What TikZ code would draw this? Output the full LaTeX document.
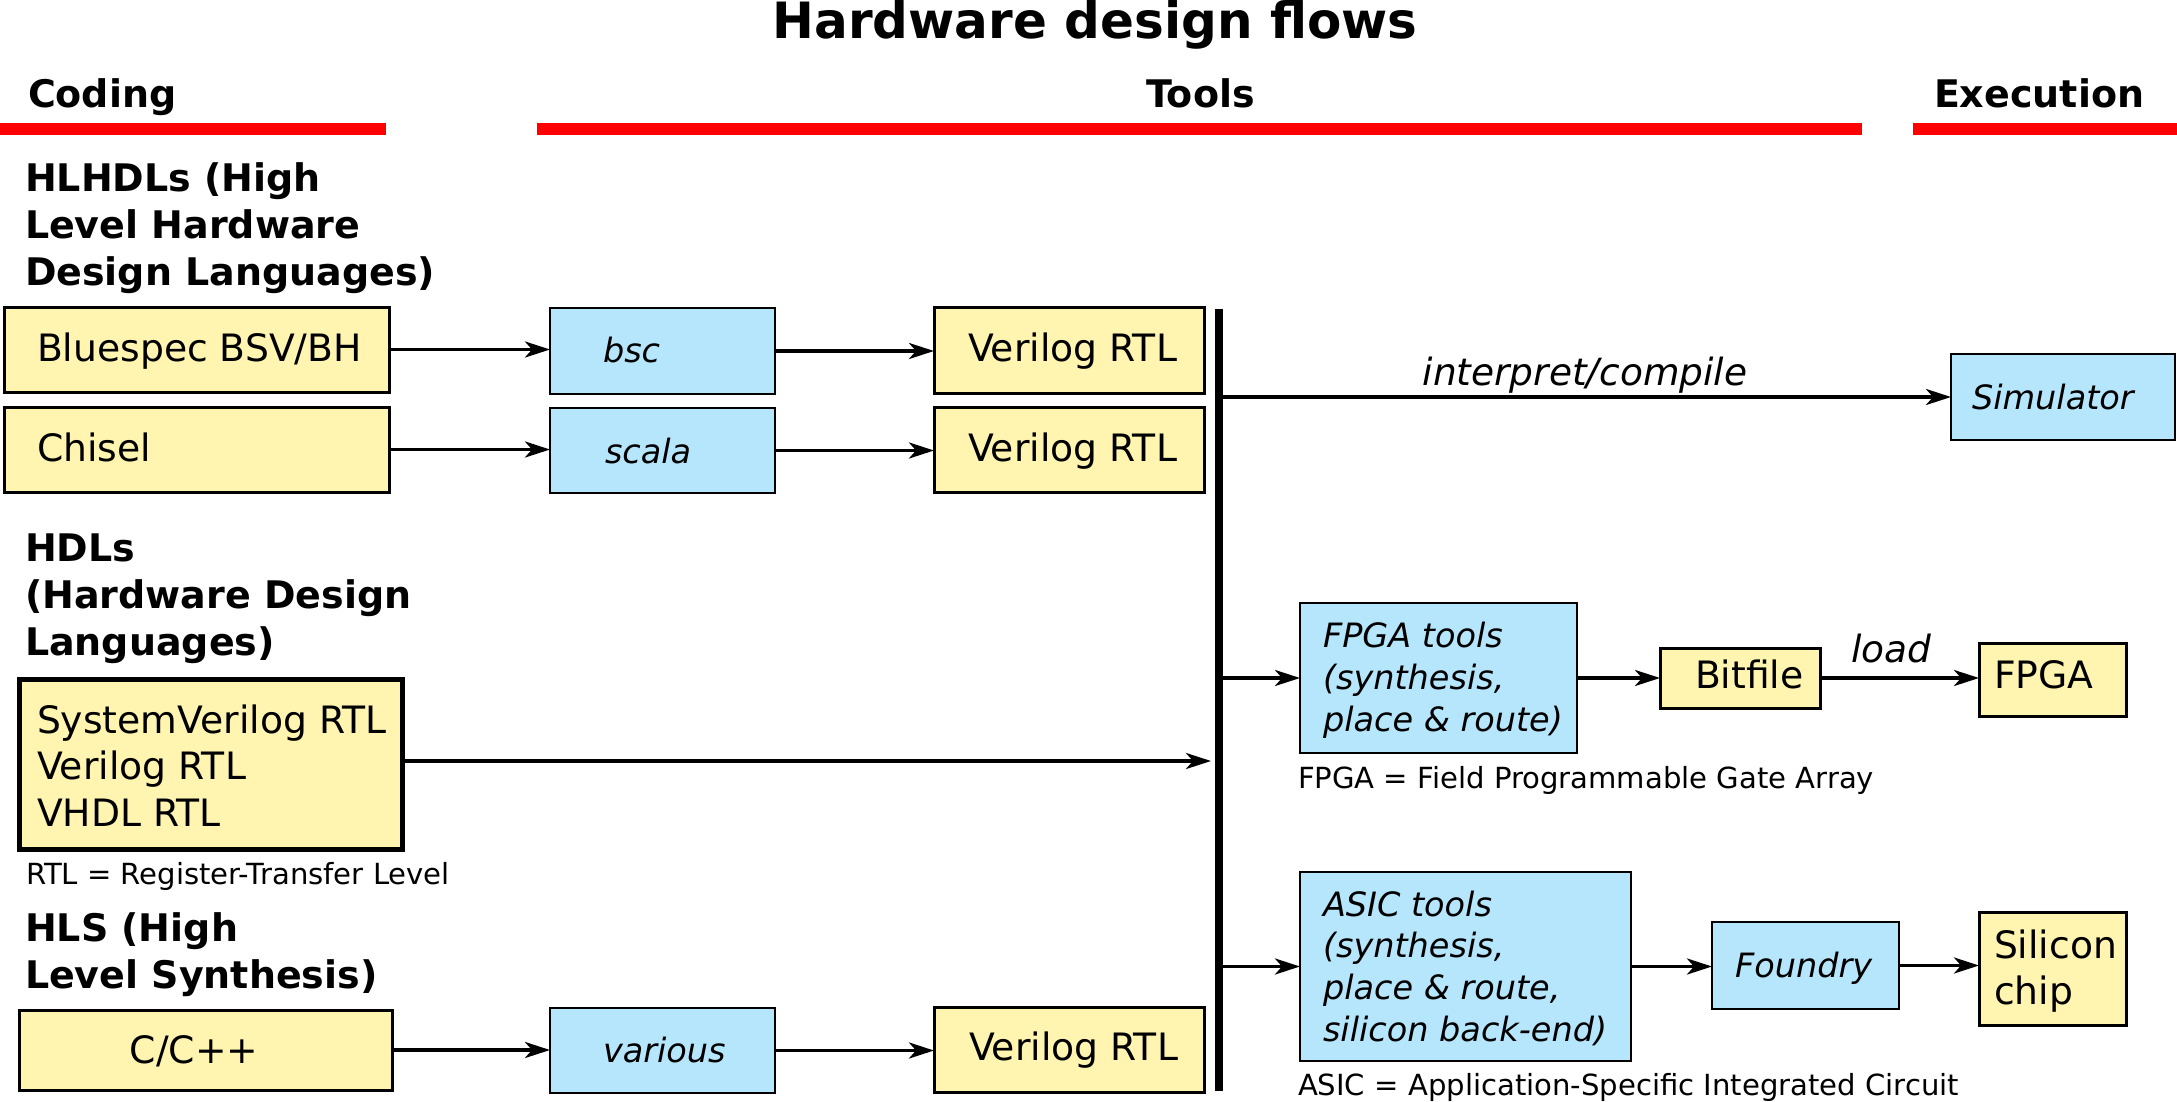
\documentclass[tikz,border=0pt]{standalone}
\usepackage{fontspec}
\setmainfont{DejaVu Sans}
\usetikzlibrary{arrows.meta}
\definecolor{boxyellow}{HTML}{FFF5B0}
\definecolor{boxblue}{HTML}{B5E6FC}
\definecolor{rulered}{HTML}{FF0000}
\begin{document}
\begin{tikzpicture}[x=1pt,y=-1pt,
  ybox/.style={rectangle,draw=black,fill=boxyellow,line width=3pt,inner sep=0pt,outer sep=0pt},
  bbox/.style={rectangle,draw=black,fill=boxblue,line width=2.5pt,inner sep=0pt,outer sep=0pt},
  arr/.style={-{Stealth[length=25pt,width=16pt,inset=7pt]},line width=3.5pt},
  txt/.style={inner sep=0pt,outer sep=0pt,anchor=base west,align=left,font=\fontsize{37.7pt}{46.5pt}\selectfont},
  itxt/.style={inner sep=0pt,outer sep=0pt,anchor=base west,align=left,font=\fontsize{33.5pt}{41.6pt}\selectfont\itshape},
  lbl/.style={inner sep=0pt,font=\fontsize{37.5pt}{42pt}\selectfont\itshape},
  hdr/.style={inner sep=0pt,outer sep=0pt,anchor=base west,align=left,font=\fontsize{38pt}{47pt}\selectfont\bfseries},
  note/.style={inner sep=0pt,outer sep=0pt,anchor=base west,font=\fontsize{29.1pt}{34pt}\selectfont},
  redrule/.style={draw=rulered,line width=12pt},
]
\useasboundingbox (0,0) rectangle (2177,1102);

% title and section headers
\node[inner sep=0pt,anchor=base,font=\fontsize{50pt}{60pt}\selectfont\bfseries] (title) at (1095,39) {Hardware design flows};
\node[hdr] (hcoding) at (28,108) {Coding};
\node[hdr] (htools) at (1146,108) {Tools};
\node[hdr] (hexec) at (1934,108) {Execution};
\draw[redrule] (0,129) -- (386,129);
\draw[redrule] (537,129) -- (1862,129);
\draw[redrule] (1913,129) -- (2177,129);

% left category labels (base = last line)
\node[hdr] (lhl) at (25,285) {HLHDLs (High\\Level Hardware\\Design Languages)};
\node[hdr] (lhdl) at (25,655) {HDLs\\(Hardware Design\\Languages)};
\node[hdr] (lhls) at (25,988) {HLS (High\\Level Synthesis)};
\node[note] (nrtl) at (26,884) {RTL = Register-Transfer Level};

% boxes
\node[ybox,minimum width=385,minimum height=85] (blue) at (196.5,349.5) {};
\node[bbox,minimum width=225,minimum height=86] (bsc) at (662.5,351) {};
\node[ybox,minimum width=270,minimum height=86] (ver1) at (1069,350) {};
\node[ybox,minimum width=385,minimum height=85] (chisel) at (196.5,449.5) {};
\node[bbox,minimum width=225,minimum height=85] (scala) at (662.5,450.5) {};
\node[ybox,minimum width=270,minimum height=85] (ver2) at (1069,449.5) {};
\node[ybox,line width=5pt,minimum width=382.5,minimum height=169.5] (sv) at (210.75,764.25) {};
\node[ybox,minimum width=373,minimum height=80] (cpp) at (205.5,1050) {};
\node[bbox,minimum width=225,minimum height=85] (various) at (662.5,1050.5) {};
\node[ybox,minimum width=270,minimum height=85] (ver3) at (1069,1049.5) {};
\node[bbox,minimum width=224,minimum height=86] (sim) at (2063,397) {};
\node[bbox,minimum width=277,minimum height=150] (fpgat) at (1438.5,678) {};
\node[ybox,minimum width=160,minimum height=60] (bitfile) at (1740,678) {};
\node[ybox,minimum width=147,minimum height=73] (fpga) at (2052.5,679.5) {};
\node[bbox,minimum width=331,minimum height=189] (asict) at (1465.5,966.5) {};
\node[bbox,minimum width=187,minimum height=87] (foundry) at (1805.5,965.5) {};
\node[ybox,minimum width=147,minimum height=113] (silicon) at (2052.5,968.5) {};

% box texts (multi-line: base = last line)
\node[txt] (tblue) at (37,361) {Bluespec BSV/BH};
\node[itxt] (tbsc) at (603,362) {bsc};
\node[txt] (tver1) at (968,361) {Verilog RTL};
\node[txt] (tchisel) at (37,461) {Chisel};
\node[itxt] (tscala) at (605,463) {scala};
\node[txt] (tver2) at (968,461) {Verilog RTL};
\node[txt] (tsv) at (37,826) {SystemVerilog RTL\\Verilog RTL\\VHDL RTL};
\node[txt,anchor=base] (tcpp) at (194,1063) {C/C++};
\node[itxt] (tvarious) at (603,1062) {various};
\node[txt] (tver3) at (969,1060) {Verilog RTL};
\node[itxt] (tsim) at (1972,409) {Simulator};
\node[itxt] (tfpgat) at (1323,731) {FPGA tools\\(synthesis,\\place \& route)};
\node[txt] (tbitfile) at (1695,688) {Bitfile};
\node[txt] (tfpga) at (1994,688) {FPGA};
\node[note] (nfpga) at (1298,788) {FPGA = Field Programmable Gate Array};
\node[itxt] (tasict) at (1323,1041) {ASIC tools\\(synthesis,\\place \& route,\\silicon back-end)};
\node[itxt] (tfoundry) at (1735,977) {Foundry};
\node[txt,font=\fontsize{37.7pt}{46pt}\selectfont] (tsilicon) at (1994,1004) {Silicon\\chip};
\node[note] (nasic) at (1298,1095) {ASIC = Application-Specific Integrated Circuit};

% vertical bar
\coordinate (bartop) at (1219,309);
\coordinate (barbot) at (1219,1091);
\coordinate (barin) at (1211,761);
\draw[line width=8pt] (bartop) -- (barbot);

% connectors
\draw[arr] (blue.east) -- (blue.east -| bsc.west);
\draw[arr] (bsc.east) -- (bsc.east -| ver1.west);
\draw[arr] (chisel.east) -- (chisel.east -| scala.west);
\draw[arr] (scala.east) -- (scala.east -| ver2.west);
\draw[arr] (sv.east |- barin) -- (barin);
\draw[arr] (cpp.east) -- (cpp.east -| various.west);
\draw[arr] (various.east) -- (various.east -| ver3.west);
\draw[arr] (sim.west -| bartop) -- (sim.west) node[midway,above=2pt,lbl] (linterp) {interpret/compile};
\draw[arr] (fpgat.west -| bartop) -- (fpgat.west);
\draw[arr] (fpgat.east) -- (fpgat.east -| bitfile.west);
\draw[arr] (bitfile.east) -- (bitfile.east -| fpga.west) node[pos=0.45,above=13pt,lbl] (lload) {load};
\draw[arr] (asict.west -| bartop) -- (asict.west);
\draw[arr] (asict.east) -- (asict.east -| foundry.west);
\draw[arr] (foundry.east) -- (foundry.east -| silicon.west);
\end{tikzpicture}
\end{document}
